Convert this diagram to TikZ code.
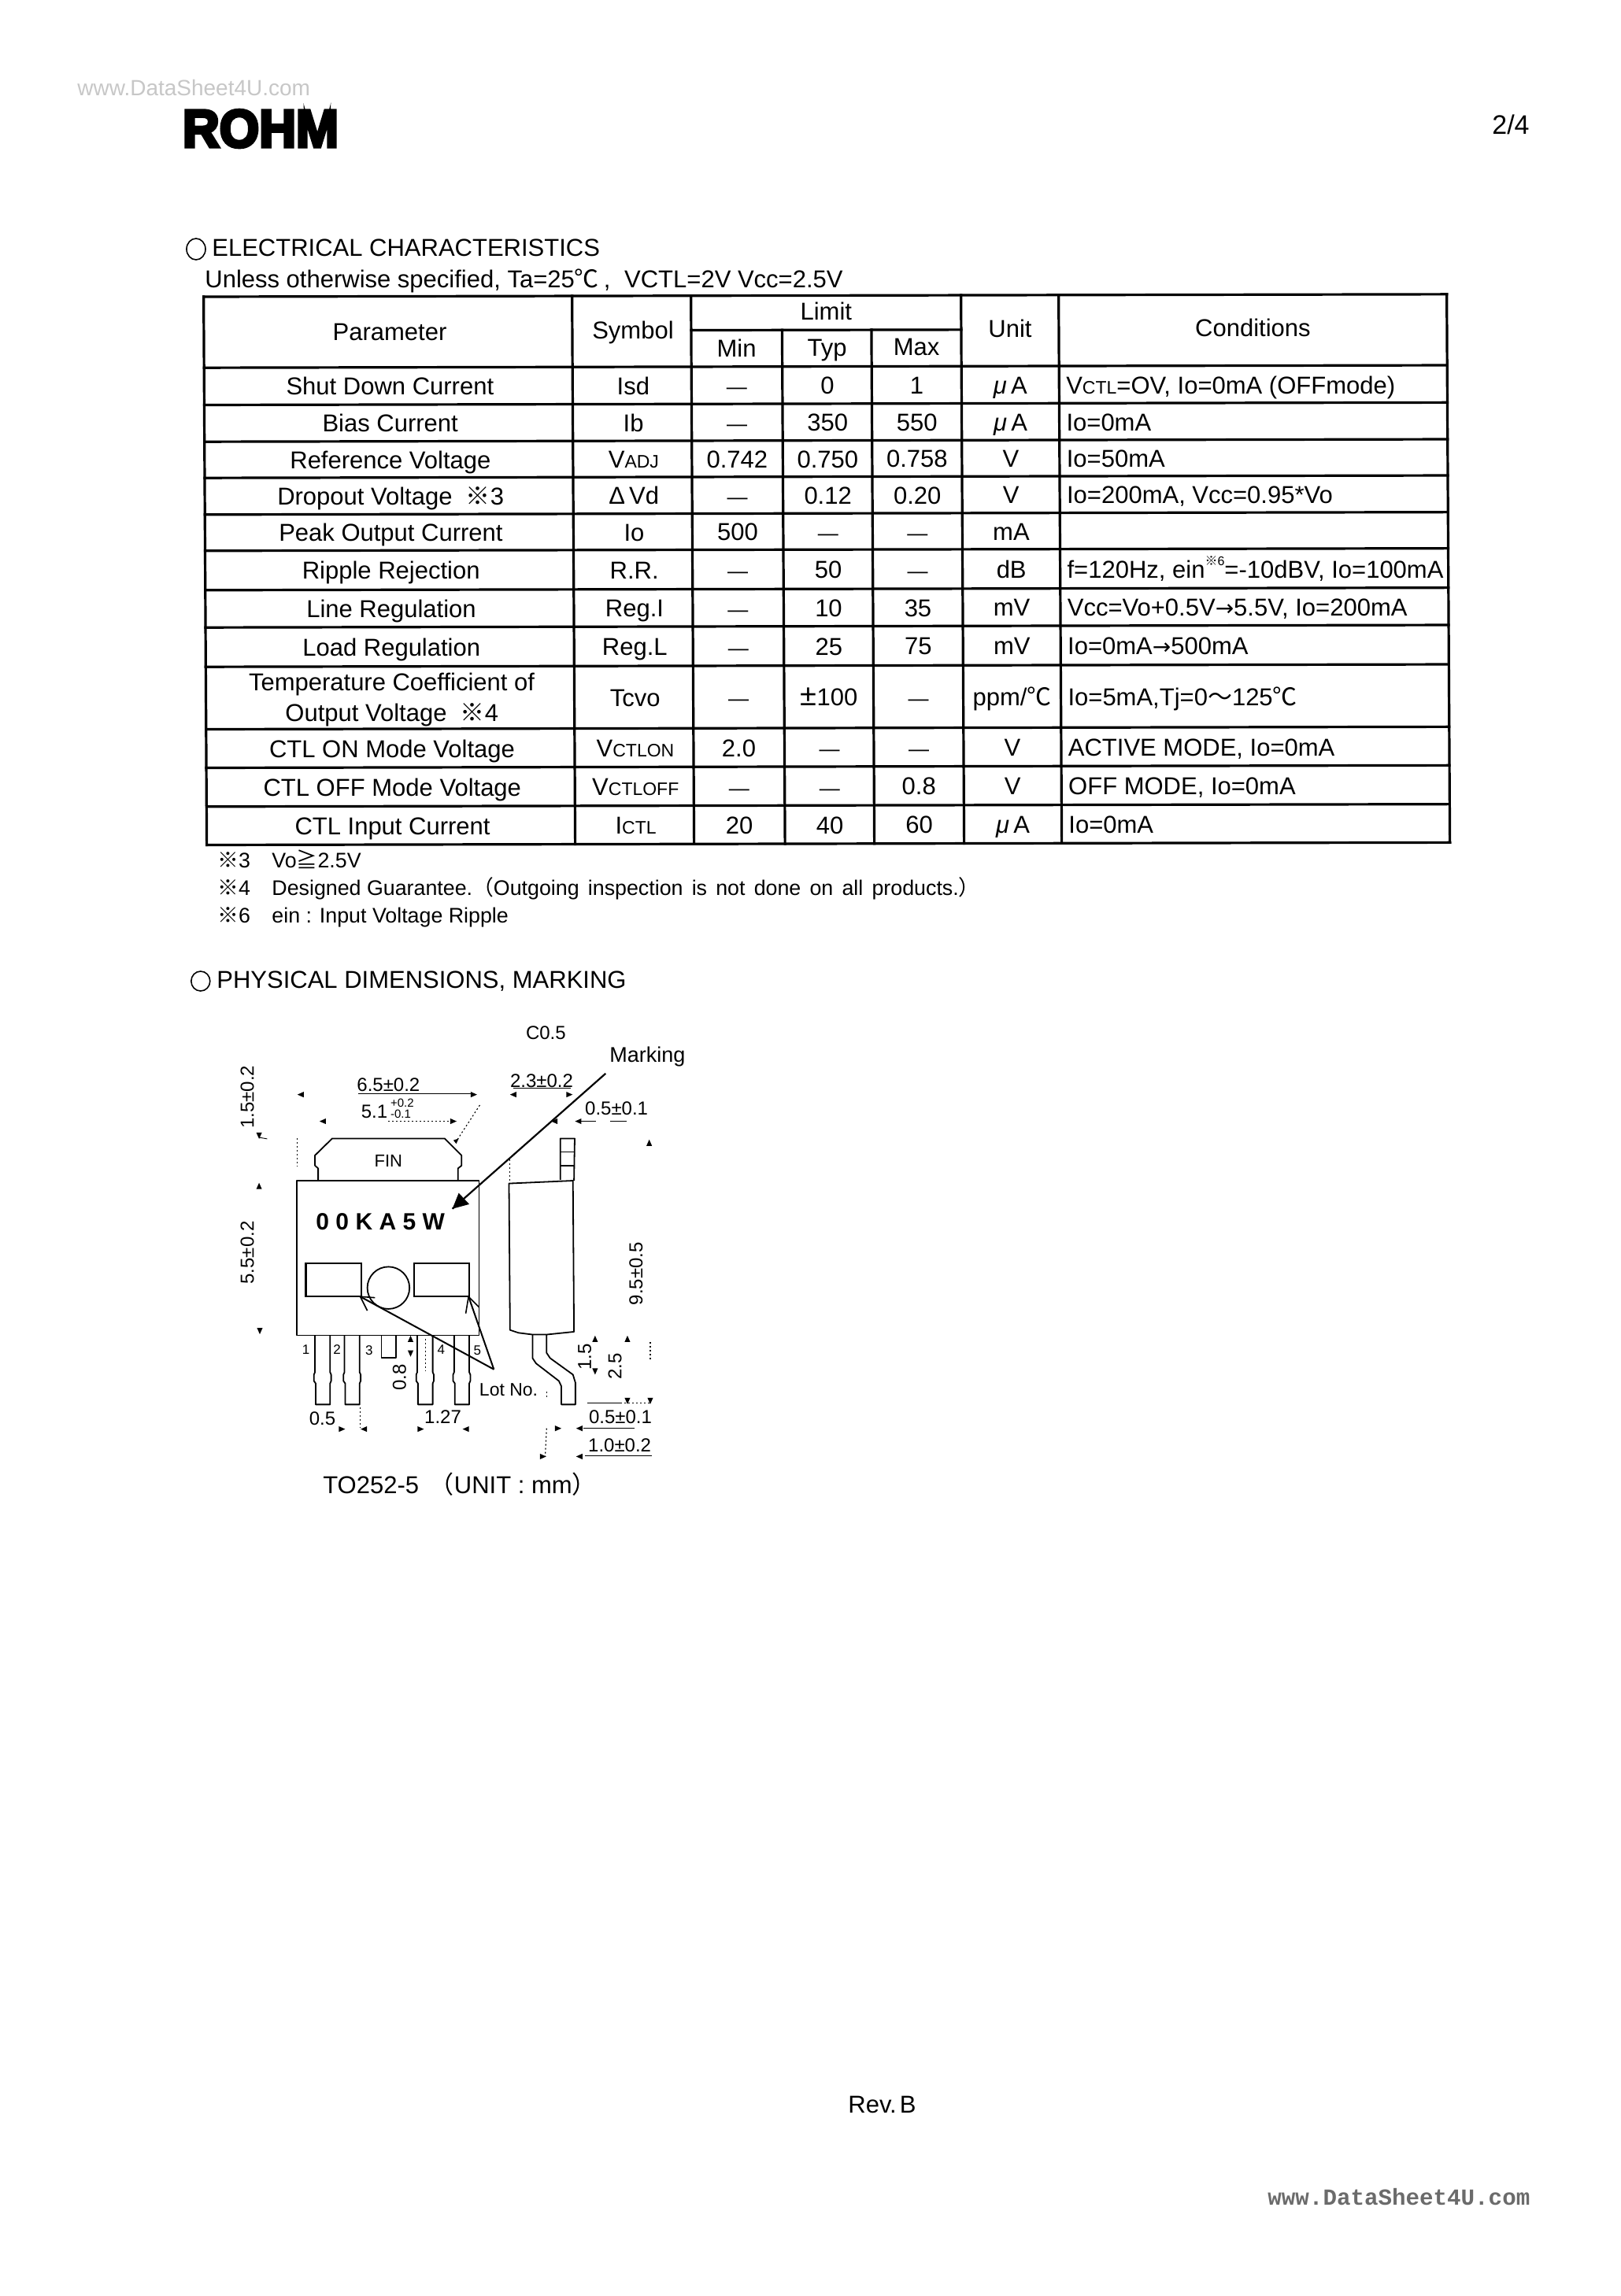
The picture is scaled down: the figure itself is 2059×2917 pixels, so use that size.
\documentclass[tikz,border=0pt]{standalone}
\usepackage{fontspec}
\usepackage{graphicx}
\setmainfont{Liberation Sans}
\newfontfamily\cjkf{Noto Sans CJK JP}
\newfontfamily\djv{DejaVu Sans}
\newfontfamily\logof[FakeBold=6]{Liberation Sans Bold}
\newfontfamily\wmark{Liberation Mono Bold}
\newcommand\tfont{\fontsize{15.5}{18}\selectfont}
\newcommand\nfont{\fontsize{13.4}{16}\selectfont}
\newcommand\dfont{\fontsize{12}{14}\selectfont}
\newcommand\smc[1]{{\fontsize{11.5}{14}\selectfont #1}}
\newcommand\komemark{{\cjkf ※}}
\newcommand\degc{{\cjkf ℃}}
\newcommand\mua{{\itshape μ}\,A}
\newcommand\dashmark{{\fontsize{13}{14}\selectfont —}}
\newcommand\arrowmark{{\djv\fontsize{14}{14}\selectfont →}}
\newcommand\trow[9]{%
  \node[cell] (#1p) at (492.5,#2+1.5) {#3};
  \node[cell] (#1s) at (801.5,#2+1.5) {#4};
  \node[cell] (#1a) at (933,#2+1.5) {#5};
  \node[cell] (#1b) at (1048,#2+1.5) {#6};
  \node[cell] (#1c) at (1161.5,#2+1.5) {#7};
  \node[cell] (#1u) at (1280.5,#2+1.5) {#8};
  \node[lcell] (#1k) at (1351,#2+1.5) {#9};
}
\newcommand\hdl[2]{\fill[dimhead] (#1-9,#2) -- (#1+9,#2-8) -- (#1+9,#2+8) -- cycle;}
\newcommand\hdr[2]{\fill[dimhead] (#1+9,#2) -- (#1-9,#2-8) -- (#1-9,#2+8) -- cycle;}
\newcommand\hdu[2]{\fill[dimhead] (#1,#2-9) -- (#1-8,#2+9) -- (#1+8,#2+9) -- cycle;}
\newcommand\hdd[2]{\fill[dimhead] (#1,#2+9) -- (#1-8,#2-9) -- (#1+8,#2-9) -- cycle;}
\newcommand\leadpin[2]{\draw[pkg] (#1,1000) -- (#1,1105) -- (#1-3,1112) -- (#1-3,1130) -- (#1+2,1137) -- (#1+2,1197) -- (#2,1197) -- (#2,1137) -- (#2+3,1130) -- (#2+3,1112) -- (#2,1105) -- (#2,1000);}
\tikzset{
  cell/.style={anchor=base,inner sep=0pt,font=\tfont},
  lcell/.style={anchor=base west,inner sep=0pt,font=\tfont},
  ttl/.style={anchor=base west,inner sep=0pt,font=\tfont},
  foot/.style={anchor=base west,inner sep=0pt,font=\nfont},
  tline/.style={line width=1.6pt,line cap=rect},
  pkg/.style={line width=0.9pt,line join=round},
  thindim/.style={line width=0.45pt},
  leader/.style={line width=0.55pt,dash pattern=on 1pt off 1.5pt},
  dimhead/.style={fill=black},
  dimt/.style={anchor=base,inner sep=0pt,font=\dfont},
  dimv/.style={anchor=base,inner sep=0pt,font=\dfont,rotate=90},
}
\begin{document}
\begin{tikzpicture}[x=0.5pt,y=-0.5pt]
\useasboundingbox (0,0) rectangle (2059,2917);
\fill[white] (0,0) rectangle (2059,2917);
% header
\node[anchor=base west,inner sep=0pt,text=black!22,font=\fontsize{14}{16}\selectfont] (wm1) at (98,121) {www.DataSheet4U.com};
\node[anchor=center,inner sep=0pt] (logo) at (331,163.5) {\resizebox{99pt}{23.5pt}{\logof ROHM}};
\node[anchor=base east,inner sep=0pt,font=\fontsize{17}{20}\selectfont] (page) at (1943,170.5) {2/4};
% section titles
\draw[line width=0.8pt] (249,316.5) ellipse [x radius=12,y radius=13.5];
\node[ttl] (t1) at (269,325.7) {ELECTRICAL CHARACTERISTICS};
\node[ttl] (t2) at (260,365) {Unless otherwise specified, Ta=25\degc\hspace{3pt},\hspace{4.5pt} VCTL=2V Vcc=2.5V};
% table (slightly skewed like the scan)
\begin{scope}[cm={1,0.002,-0.0057,1,(0,0)}]
\foreach \v in {377.5,467.7,515,561.7,607.7,654.3,700.3,750.3,797.7,847.7,927,976,1025.3,1074}
  \draw[tline] (256.5,\v) -- (1835.5,\v);
\foreach \u in {256.5,724.5,875.5,1218.5,1342.5,1835.5}
  \draw[tline] (\u,377.5) -- (\u,1074);
\foreach \u in {991,1104.5}
  \draw[tline] (\u,421.3) -- (\u,1074);
\draw[tline] (875.5,421.3) -- (1218.5,421.3);
\node[cell] (hp) at (492.5,433) {Parameter};
\node[cell] (hs) at (801.5,431.6) {Symbol};
\node[cell] (hl) at (1047,409) {Limit};
\node[cell] (ha) at (933,455) {Min};
\node[cell] (hb) at (1048,455) {Typ};
\node[cell] (hc) at (1161.5,454.3) {Max};
\node[cell] (hu) at (1280.5,430.6) {Unit};
\node[cell] (hk) at (1589,431) {Conditions};
\trow{ra}{501.3}{Shut Down Current}{Isd}{\dashmark}{0}{1}{\mua}{V\smc{CTL}=OV, Io=0mA (OFFmode)}
\trow{rb}{548.3}{Bias Current}{Ib}{\dashmark}{350}{550}{\mua}{Io=0mA}
\trow{rc}{594.7}{Reference Voltage}{V\smc{ADJ}}{0.742}{0.750}{0.758}{V}{Io=50mA}
\trow{rd}{641}{Dropout Voltage\ \ \komemark 3}{Δ\,Vd}{\dashmark}{0.12}{0.20}{V}{Io=200mA, Vcc=0.95*Vo}
\trow{re}{687.3}{Peak Output Current}{Io}{500}{\dashmark}{\dashmark}{mA}{}
\trow{rf}{735.3}{Ripple Rejection}{R.R.}{\dashmark}{50}{\dashmark}{dB}{f=120Hz, ein\raisebox{.5em}{\fontsize{8}{9}\selectfont\komemark 6}=-10dBV, Io=100mA}
\trow{rg}{784}{Line Regulation}{Reg.I}{\dashmark}{10}{35}{mV}{Vcc=Vo+0.5V\arrowmark 5.5V, Io=200mA}
\trow{rh}{832.7}{Load Regulation}{Reg.L}{\dashmark}{25}{75}{mV}{Io=0mA\arrowmark 500mA}
\trow{ri}{897.3}{}{Tcvo}{\dashmark}{{\fontsize{19}{20}\selectfont ±}100}{\dashmark}{ppm/\degc}{Io=5mA,Tj=0{\cjkf ～}125\degc}
\node[cell] (ri1) at (492.5,878.5) {Temperature Coefficient of};
\node[cell] (ri2) at (492.5,917) {Output Voltage\ \ \komemark 4};
\trow{rj}{961.5}{CTL ON Mode Voltage}{V\smc{CTLON}}{2.0}{\dashmark}{\dashmark}{V}{ACTIVE MODE, Io=0mA}
\trow{rk}{1010.6}{CTL OFF Mode Voltage}{V\smc{CTLOFF}}{\dashmark}{\dashmark}{0.8}{V}{OFF MODE, Io=0mA}
\trow{rl}{1059.6}{CTL Input Current}{I\smc{CTL}}{20}{40}{60}{\mua}{Io=0mA}
\end{scope}
% footnotes
\node[foot] (f1a) at (276,1102) {\komemark 3};
\node[foot] (f1b) at (345,1102) {Vo{\cjkf ≧}2.5V};
\node[foot] (f2a) at (276,1137.7) {\komemark 4};
\node[foot] (f2b) at (345,1137.7) {Designed Guarantee.{\cjkf （}{\spaceskip=5.6pt Outgoing inspection is not done on all products.}{\cjkf ）}};
\node[foot] (f3a) at (276,1172.7) {\komemark 6};
\node[foot] (f3b) at (345,1172.7) {ein : Input Voltage Ripple};
\draw[line width=0.8pt] (254.8,1246.5) ellipse [x radius=12,y radius=12.5];
\node[ttl] (t3) at (275,1255) {PHYSICAL DIMENSIONS, MARKING};
% footer
\node[anchor=base west,inner sep=0pt,font=\fontsize{15.5}{18}\selectfont] (rev) at (1077,2684) {Rev.\hspace{2pt}B};
\node[anchor=base west,inner sep=0pt,text=black!58,font=\fontsize{14.6}{17}\selectfont\wmark] (wm2) at (1610,2801) {www.DataSheet4U.com};
% package drawing, in coordinates of a 2.24x enlargement
\begin{scope}[shift={(230,1250)},x=0.22321pt,y=-0.22321pt]
\draw[pkg] (330,560) rectangle (848,1000);
\draw[pkg] (390,558) -- (390,525) -- (381,517) -- (381,488) -- (430,440) -- (750,440) -- (798,488) -- (798,517) -- (788,525) -- (788,558);
\node[anchor=base,inner sep=0pt,font=\fontsize{11}{13}\selectfont] (fin) at (590,521) {FIN};
\node[anchor=base west,inner sep=0pt,font=\fontsize{15}{17}\selectfont\bfseries] (mk) at (383,700) {0\hspace{4.2pt}0\hspace{4.2pt}K\hspace{4.2pt}A\hspace{4.2pt}5\hspace{4.2pt}W};
\draw[line width=1.1pt] (355,795) rectangle (513,890);
\draw[line width=1.1pt] (663,795) rectangle (820,890);
\draw[pkg] (590,865) circle [radius=60];
% marking arrow
\coordinate (mstart) at (1208,255);
\coordinate (mtip) at (772,640);
\draw[line width=1.1pt] (mstart) -- (mtip);
\fill (mtip) -- (790,595) -- (820,627) -- cycle;
% lot no. arrows
\coordinate (lotfrom) at (890,1097);
\coordinate (lota) at (510,890);
\coordinate (lotb) at (818,890);
\draw[line width=1pt] (lotfrom) -- (lota);
\draw[line width=1pt] (lotfrom) -- (lotb);
\draw[line width=0.8pt] (552,893) -- (lota) -- (530,930);
\draw[line width=0.8pt] (848,920) -- (lotb) -- (810,938);
% leads
\leadpin{381}{424}
\leadpin{465}{508}
\leadpin{672}{716}
\leadpin{777}{820}
\draw[pkg] (570,1000) -- (570,1064) -- (611,1064) -- (611,1000);
\node[anchor=base,inner sep=0pt,font=\fontsize{8.5}{10}\selectfont] (p1) at (355,1055) {1};
\node[anchor=base,inner sep=0pt,font=\fontsize{8.5}{10}\selectfont] (p2) at (444,1055) {2};
\node[anchor=base,inner sep=0pt,font=\fontsize{8.5}{10}\selectfont] (p3) at (535,1057) {3};
\node[anchor=base,inner sep=0pt,font=\fontsize{8.5}{10}\selectfont] (p4) at (740,1055) {4};
\node[anchor=base,inner sep=0pt,font=\fontsize{8.5}{10}\selectfont] (p5) at (843,1057) {5};
% side view
\draw[pkg] (933,568) -- (1115,560) -- (1118,990) -- (1040,998) -- (1000,998) -- (960,993) -- (936,985) -- cycle;
\draw[pkg] (1079,558) -- (1079,440) -- (1120,440) -- (1118,560);
\draw[pkg] (1079,478) -- (1120,478);
\draw[pkg] (1079,518) -- (1120,518);
\draw[pkg] (1000,998) -- (1000,1065) -- (1010,1080) -- (1075,1130) -- (1082,1145) -- (1082,1197) -- (1122,1197) -- (1122,1135) -- (1115,1112) -- (1050,1065) -- (1040,1050) -- (1040,998);
% dimension lines and leaders
\draw[thindim] (505,312) -- (825,312);
\draw[leader] (590,391) -- (770,391);
\draw[thindim] (945,297) -- (1108,297);
\draw[thindim] (1130,391) -- (1180,391);
\draw[thindim] (1220,391) -- (1268,391);
\draw[thindim] (1155,1193) -- (1250,1193);
\draw[leader] (1250,1193) -- (1335,1193);
\draw[thindim] (1145,1265) -- (1290,1265);
\draw[thindim] (1150,1342) -- (1340,1342);
\draw[leader] (330,440) -- (330,520);
\draw[leader] (935,500) -- (935,562);
\draw[leader] (850,345) -- (785,445);
\draw[leader] (1040,1265) -- (1036,1345);
\draw[leader] (1335,1020) -- (1335,1070);
\draw[leader] (510,1205) -- (510,1262);
\draw[leader] (1040,1160) -- (1040,1182);
\draw[leader] (695,1010) -- (695,1100);
\draw[thindim] (222,437) -- (245,441);
\hdl{340}{315}\hdl{403}{391}\hdl{945}{315}\hdl{1062}{391}\hdl{1130}{391}\hdl{520}{1267}\hdl{810}{1267}\hdl{1133}{1265}\hdl{1133}{1345}
\hdr{833}{315}\hdr{775}{391}\hdr{1105}{315}\hdr{458}{1267}\hdr{682}{1267}\hdr{1073}{1265}\hdr{1030}{1345}
\hdu{222}{575}\hdu{1332}{452}\hdu{653}{1010}\hdu{1178}{1010}\hdu{1270}{1010}
\hdd{222}{432}\hdd{224}{988}\hdd{653}{1052}\hdd{1178}{1103}\hdd{1270}{1187}\hdd{1335}{1187}
\fill (783,455) -- (775,445) -- (790,440) -- cycle;
% dimension texts
\node[anchor=base,inner sep=0pt,font=\fontsize{12}{14}\selectfont] (c05) at (1038,157) {C0.5};
\node[anchor=base,inner sep=0pt,font=\fontsize{13.5}{16}\selectfont] (marking) at (1327,222) {Marking};
\node[dimt] (d65) at (590,305) {6.5±0.2};
\node[dimt] (d51) at (550,382) {5.1};
\node[anchor=base west,inner sep=0pt,font=\fontsize{7.5}{9}\selectfont] (d51a) at (595,350) {+0.2};
\node[anchor=base west,inner sep=0pt,font=\fontsize{7.5}{9}\selectfont] (d51b) at (595,382) {-0.1};
\node[dimt] (d23) at (1026,295) {2.3±0.2};
\node[dimt] (d05a) at (1239,372) {0.5±0.1};
\node[dimv] (d15a) at (207,322) {1.5±0.2};
\node[dimv] (d55) at (207,765) {5.5±0.2};
\node[dimv] (d95) at (1313,825) {9.5±0.5};
\node[dimv] (d08) at (640,1120) {0.8};
\node[dimv] (d15b) at (1167,1062) {1.5};
\node[dimv] (d25) at (1253,1088) {2.5};
\node[dimt] (d05c) at (402,1255) {0.5};
\node[dimt] (d127) at (745,1250) {1.27};
\node[anchor=base,inner sep=0pt,font=\fontsize{11.5}{14}\selectfont] (lot) at (932,1172) {Lot No.};
\node[dimt] (d05b) at (1250,1252) {0.5±0.1};
\node[dimt] (d10) at (1248,1332) {1.0±0.2};
\node[anchor=base west,inner sep=0pt,font=\tfont] (pk) at (403,1450) {TO252-5};
\node[anchor=base,inner sep=0pt,font=\tfont] (un) at (945,1450) {{\cjkf （}UNIT : mm{\cjkf ）}};
\end{scope}
\end{tikzpicture}
\end{document}
